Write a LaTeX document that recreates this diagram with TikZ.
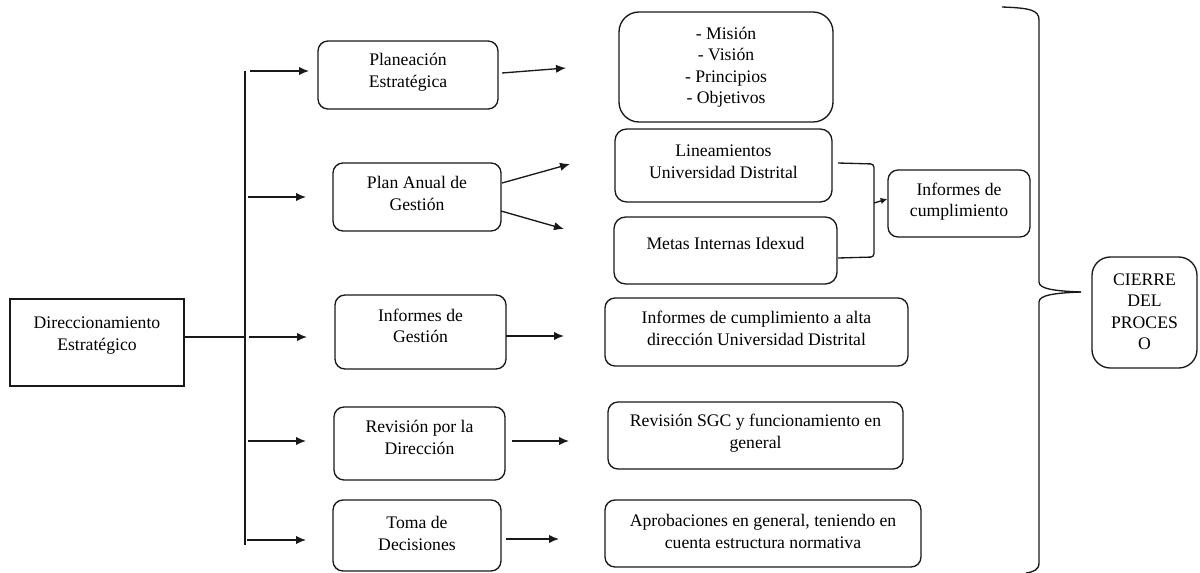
\documentclass[tikz,border=0pt]{standalone}
\usepackage{fontspec}
\setmainfont{Liberation Serif}
\newfontfamily\timesf{Liberation Serif}
\usetikzlibrary{fit,arrows.meta,calc}
\newcommand\bx[6][rbox]{%
  \node[#1, fit={(#3) (#4)}] (#2) {};
  \node[txt] (#2-t) at ([yshift=#5*0.6pt]#2.center) {#6};}
\begin{document}
\begin{tikzpicture}[x=0.6pt,y=-0.6pt,
  ln/.style={line width=0.8pt, draw=black!90},
  arr/.style={ln,-{Latex[length=6pt,width=5pt]}},
  rbox/.style={draw=black!90, line width=0.8pt, rounded corners=6pt, inner sep=0pt},
  mbox/.style={rbox, rounded corners=12pt},
  lbox/.style={rbox, rounded corners=7pt},
  cbox/.style={rbox, rounded corners=11pt},
  sbox/.style={draw=black!90, line width=0.8pt, inner sep=0pt},
  txt/.style={align=center, inner sep=0pt, font=\timesf\rmfamily\fontsize{10.6}{12.9}\selectfont}]
\useasboundingbox (0,0) rectangle (1200,573);

% boxes
\bx[sbox]{dir}{10,299}{184,386}{7}{Direccionamiento\\Estratégico}
\bx{pe}{318,41}{498,109}{2.5}{Planeación\\Estratégica}
\bx{pag}{333,163}{501,231}{3.5}{Plan Anual de\\Gestión}
\bx{ig}{335,295}{506,369}{6}{Informes de\\Gestión}
\bx{rd}{334,407}{505,480}{6}{Revisión por la\\Dirección}
\bx{td}{333,500}{501,571}{2}{Toma de\\Decisiones}
\bx[mbox]{mv}{619,12}{833,122}{0}{- Misión\\- Visión\\- Principios\\- Objetivos}
\bx[lbox]{lin}{615,129}{832,202}{4}{Lineamientos\\Universidad Distrital}
\bx[lbox]{met}{614,217}{837,284}{7}{Metas Internas Idexud}
\bx{ic}{888,170}{1030,237}{2}{Informes de\\cumplimiento}
\bx{ica}{605,298}{908,366}{3.5}{Informes de cumplimiento a alta\\dirección Universidad Distrital}
\bx{rs}{608,402}{903,469}{2.5}{Revisión SGC y funcionamiento en\\general}
\bx{ap}{605,500}{921,567}{2}{Aprobaciones en general, teniendo en\\cuenta estructura normativa}
\bx[cbox]{cp}{1092,257}{1197,368}{1}{CIERRE\\DEL\\PROCES\\O}

% trunk
\coordinate (vt) at (245,71);
\coordinate (vb) at (245,545);
\coordinate (dj) at (245,337);
\draw[ln] (vt) -- (vb);
\draw[ln] (dir.east |- dj) -- (dj);

% arrows from trunk to middle column
\coordinate (a1) at (250,71);  \coordinate (b1) at (309,71);
\coordinate (a2) at (248,197); \coordinate (b2) at (306,197);
\coordinate (a3) at (249,337); \coordinate (b3) at (307,337);
\coordinate (a4) at (248,441); \coordinate (b4) at (306,441);
\coordinate (a5) at (247,540); \coordinate (b5) at (306,540);
\foreach \i in {1,...,5} {\draw[arr] (a\i) -- (b\i);}

% arrows from middle column to right column
\coordinate (c1) at (502,73);  \coordinate (d1) at (566,68);
\coordinate (c2) at (502,183); \coordinate (d2) at (570,164);
\coordinate (c3) at (501,211); \coordinate (d3) at (564,229);
\coordinate (c4) at (506,336); \coordinate (d4) at (564,336);
\coordinate (c5) at (512,441); \coordinate (d5) at (569,441);
\coordinate (c6) at (506,539); \coordinate (d6) at (559,539);
\foreach \i in {1,...,6} {\draw[arr] (c\i) -- (d\i);}

% bracket joining Lineamientos and Metas
\coordinate (k1) at (838,163);
\coordinate (k2) at (838,258);
\coordinate (km) at (874,203);
\draw[ln, rounded corners=2pt] (k1) -- (874,164) -- (874,257) -- (k2);
\draw[ln,-{Latex[length=4pt,width=4pt]}] (km) -- (ic.west |- 0,199);

% big brace
\coordinate (tip) at (1081,292);
\draw[ln] (1002,7) .. controls (1030,8) and (1039,10) .. (1039,20)
  -- (1039,282) .. controls (1039,289) and (1055,291) .. (tip);
\draw[ln] (tip) .. controls (1055,293) and (1039,295) .. (1039,302)
  -- (1039,563) .. controls (1039,570) and (1033,572) .. (1026,573);
\end{tikzpicture}
\end{document}
